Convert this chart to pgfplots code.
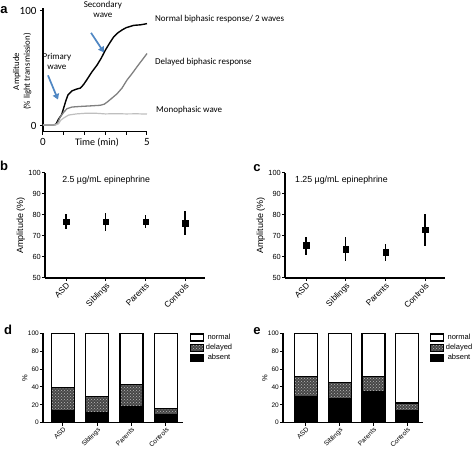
\documentclass[border=0pt]{standalone}
\usepackage{pgfplots}
\pgfplotsset{compat=1.18}
\usetikzlibrary{patterns,arrows.meta}
\usepackage{fontspec}
\setmainfont{Liberation Sans}
\newfontfamily\calib{Carlito}
\definecolor{arrowblue}{RGB}{80,135,195}

\pgfplotsset{
  panel/.style={scale only axis, anchor=south west,
    axis x line*=bottom, axis y line*=left,
    axis line style={-, line width=1.2pt},
    tick style={black, line width=1pt}, major tick length=3pt,
    tick align=outside, clip=false,
    /pgf/number format/assume math mode=true},
  catticks/.style={xtick={0,1,2,3}, xticklabels={ASD,Siblings,Parents,Controls},
    xticklabel style={rotate=45, anchor=north east, inner sep=0.8pt, font=\fontsize{#1}{#1}\selectfont}},
  errpanel/.style={panel, width=160pt, height=105.3pt, xmin=-0.53, xmax=3.5,
    ymin=50, ymax=100, ytick={50,60,...,100}, catticks=8.3,
    yticklabel style={font=\fontsize{7.4}{8}\selectfont, inner sep=1pt},
    ylabel={Amplitude (\%)}, ylabel style={font=\fontsize{9}{10}\selectfont, yshift=-1pt}},
  errplot/.style={only marks, mark=square*, mark size=2.7pt, black,
    error bars/.cd, y dir=both, y explicit, error mark=none,
    error bar style={line width=1.5pt}},
  barpanel/.style={panel, width=140pt, height=89.4pt, ymin=0, ymax=100,
    ytick={0,20,...,100}, catticks=6.6, ybar stacked, bar width=23pt,
    yticklabel style={font=\fontsize{6.5}{7}\selectfont, inner sep=1pt},
    ylabel={\%}, ylabel style={font=\fontsize{7.5}{8}\selectfont, yshift=-4pt},
    reverse legend,
    legend style={draw=none, fill=none, at={(1.05,1.01)}, anchor=north west,
      font=\fontsize{7.5}{8}\selectfont, row sep=0.2pt, inner sep=0pt,
      nodes={inner sep=1.5pt}},
    legend image code/.code={\draw[#1] (0pt,-3.5pt) rectangle (13pt,3.5pt);}},
  absentbar/.style={fill=black, draw=black, line width=1.2pt},
  delayedbar/.style={fill=black!72, draw=black, line width=1.2pt,
    postaction={pattern=crosshatch dots, pattern color=gray!55}},
  normalbar/.style={fill=white, draw=black, line width=1.2pt},
}

\pgfplotstableread{
x y ep em
0 76.8 3.5 3.6
1 76.8 4.0 4.7
2 76.8 3.2 3.1
3 76.0 5.9 5.8
}\tabB
\pgfplotstableread{
x y ep em
0 65.5 4.2 4.5
1 63.7 6.0 5.5
2 62.3 3.9 4.1
3 72.9 7.5 7.9
}\tabC
\pgfplotstableread{
x absent delayed normal
0 14 25 61
1 11 18 71
2 18 25 57
3 9 7 84
}\tabD
\pgfplotstableread{
x absent delayed normal
0 29 22.5 48.5
1 27 18 55
2 35 17 48
3 13 9 78
}\tabE

\begin{document}
\begin{tikzpicture}
\useasboundingbox (0,0) rectangle (474pt,449pt);

% ---------- panel a ----------
\begin{axis}[panel, at={(43pt,317.25pt)}, width=104pt, height=120.75pt,
  xmin=0, xmax=5, ymin=-5, ymax=100,
  xtick={0,1,2,3,4,5}, xticklabels={0,,,,,5}, ytick={0,100},
  ticklabel style={font=\calib\fontsize{11}{11}\selectfont},
  xlabel={Time (min)}, xlabel style={font=\calib\fontsize{10}{10}\selectfont, yshift=14pt, xshift=2pt},
  ylabel={Amplitude\\(\% light transmission)},
  ylabel style={align=center, font=\calib\fontsize{8.8}{10.5}\selectfont,
    at={(axis description cs:-0.2,0.5)}, anchor=center}]
\draw[line width=1.2pt] (axis cs:0,100) -- (axis cs:0,103);
\addplot[black, line width=1.4pt] coordinates {(0,0.8) (0.5,0.8) (0.62,1.5) (0.75,6) (0.9,10) (1.0,16) (1.1,22) (1.2,27) (1.39,30.5) (1.6,32) (1.8,33) (1.95,36) (2.1,40) (2.35,47) (2.6,53) (2.8,59) (3.0,66) (3.2,72) (3.4,77.5) (3.6,81) (3.8,83.5) (4.0,85.5) (4.36,87.5) (4.7,88) (5,89)};
\addplot[gray, line width=1.3pt] coordinates {(0,0.8) (0.55,0.8) (0.7,2.5) (0.83,8) (1.0,12) (1.15,15) (1.4,16.5) (1.8,17) (2.3,17.5) (2.75,18) (2.95,19) (3.1,21) (3.3,24) (3.56,28) (3.8,33) (4.04,40) (4.3,46) (4.5,51) (4.75,57) (5,63)};
\addplot[gray!50, line width=1.2pt] coordinates {(0,0.8) (0.6,0.8) (0.75,2) (0.85,5) (1.0,7) (1.23,9.5) (1.6,10.5) (2.0,11) (2.6,11) (3.0,10.5) (3.5,10.7) (4.0,10.5) (4.5,10.6) (5,10.4)};
\draw[arrowblue, line width=1.7pt, -{Triangle[length=5.5pt,width=6.5pt]}] (axis cs:0.24,44) -- (axis cs:0.72,23);
\draw[arrowblue, line width=1.7pt, -{Triangle[length=5.5pt,width=6.5pt]}] (axis cs:2.31,81) -- (axis cs:2.93,64);
\node[font=\calib\fontsize{9}{10}\selectfont, align=center] at (axis cs:0.67,56.5) {Primary\\wave};
\node[font=\calib\fontsize{9}{10}\selectfont, align=center] at (axis cs:2.88,101.7) {Secondary\\wave};
\node[font=\calib\fontsize{9}{10}\selectfont, anchor=west, inner sep=0pt] at (axis cs:5.38,93) {Normal biphasic response/ 2 waves};
\node[font=\calib\fontsize{9}{10}\selectfont, anchor=west, inner sep=0pt] at (axis cs:5.38,55.7) {Delayed biphasic response};
\node[font=\calib\fontsize{9}{10}\selectfont, anchor=west, inner sep=0pt] at (axis cs:5.43,14) {Monophasic wave};
\end{axis}

% ---------- panel b ----------
\begin{axis}[errpanel, at={(45pt,171pt)}]
\addplot[errplot] table[x=x, y=y, y error plus=ep, y error minus=em] {\tabB};
\node[anchor=west, inner sep=0pt, font=\fontsize{8.8}{9}\selectfont] at (axis cs:-0.1,96.3) {2.5 \textmu g/mL epinephrine};
\end{axis}

% ---------- panel c ----------
\begin{axis}[errpanel, at={(285pt,171pt)}]
\addplot[errplot] table[x=x, y=y, y error plus=ep, y error minus=em] {\tabC};
\node[anchor=west, inner sep=0pt, font=\fontsize{8.8}{9}\selectfont] at (axis cs:-0.28,96.3) {1.25 \textmu g/mL epinephrine};
\end{axis}

% ---------- panel d ----------
\begin{axis}[barpanel, at={(43pt,26.3pt)}, xmin=-0.58, xmax=3.5]
\addplot[absentbar] table[x=x, y=absent] {\tabD};
\addplot[delayedbar] table[x=x, y=delayed] {\tabD};
\addplot[normalbar] table[x=x, y=normal] {\tabD};
\legend{absent, delayed, normal}
\end{axis}

% ---------- panel e ----------
\begin{axis}[barpanel, at={(283pt,26.3pt)}, xmin=-0.68, xmax=3.47]
\addplot[absentbar] table[x=x, y=absent] {\tabE};
\addplot[delayedbar] table[x=x, y=delayed] {\tabE};
\addplot[normalbar] table[x=x, y=normal] {\tabE};
\legend{absent, delayed, normal}
\end{axis}

% panel letters
\node[font=\bfseries\fontsize{13}{13}\selectfont] at (4pt,439pt) {a};
\node[font=\bfseries\fontsize{13}{13}\selectfont] at (4pt,283pt) {b};
\node[font=\bfseries\fontsize{13}{13}\selectfont] at (257pt,281pt) {c};
\node[font=\bfseries\fontsize{13}{13}\selectfont] at (8pt,119pt) {d};
\node[font=\bfseries\fontsize{13}{13}\selectfont] at (257pt,118pt) {e};
\end{tikzpicture}
\end{document}
